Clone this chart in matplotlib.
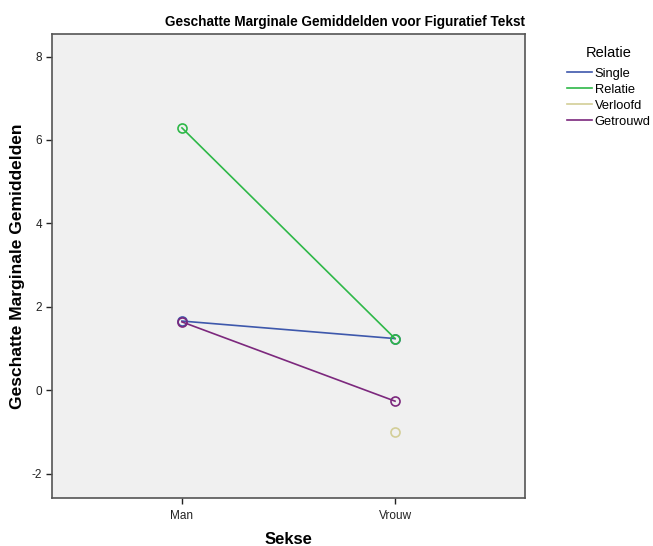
import numpy as np
import matplotlib
matplotlib.use("Agg")
import matplotlib.pyplot as plt

# estimated marginal means
sekse = ["Man", "Vrouw"]
relatie = ["Single", "Relatie", "Verloofd", "Getrouwd"]
single = [1.66, 1.24]
relatie_vals = [6.29, 1.24]
verloofd = [np.nan, -1.0]
getrouwd = [1.64, -0.26]
kleuren = ["#3E58AC", "#2EB848", "#D3CE97", "#7C287D"]

plt.rcParams["font.family"] = ["Liberation Sans", "DejaVu Sans"]
plt.rcParams["axes.unicode_minus"] = False

fig = plt.figure(figsize=(6.53, 5.46), dpi=100)
ax = fig.add_axes([0.0796, 0.088, 0.7244, 0.8497])
ax.set_facecolor("#F0F0F0")

x = np.arange(len(sekse))
for naam, vals, kleur in zip(relatie, [single, relatie_vals, verloofd, getrouwd], kleuren):
    ax.plot(x, vals, color=kleur, lw=1.2, marker="o", ms=6.5, mfc="none",
            mew=1.2, label=naam)

ax.set_xlim(-0.61, 1.61)
ax.set_ylim(-2.58, 8.54)
ax.set_xticks(x)
ax.set_xticklabels(sekse)
ax.set_yticks([-2, 0, 2, 4, 6, 8])
ax.tick_params(labelsize=8.5, colors="#222222", length=4, width=1, pad=3)
ax.tick_params(axis="x", pad=5)
for s in ax.spines.values():
    s.set_color("#555555")
    s.set_linewidth(1.2)

ax.set_title("Geschatte Marginale Gemiddelden voor Figuratief Tekst",
             fontsize=9.8, fontweight="bold", loc="right", pad=6)
ax.set_ylabel("Geschatte Marginale Gemiddelden", fontsize=12.5, fontweight="bold")
ax.yaxis.set_label_coords(-0.057, 0.5)
ax.set_xlabel("Sekse", fontsize=12, fontweight="bold")
ax.xaxis.set_label_coords(0.5, -0.074)

leg = ax.legend(title="Relatie", loc="upper left", bbox_to_anchor=(1.065, 1.0),
                frameon=False, fontsize=9.3, title_fontsize=10.5, handlelength=1.9,
                handletextpad=0.2, labelspacing=0.3, borderaxespad=0.5)
leg._legend_box.sep = 6
for h in leg.legend_handles:
    h.set_marker("")

fig.savefig("out.png", dpi=100)
